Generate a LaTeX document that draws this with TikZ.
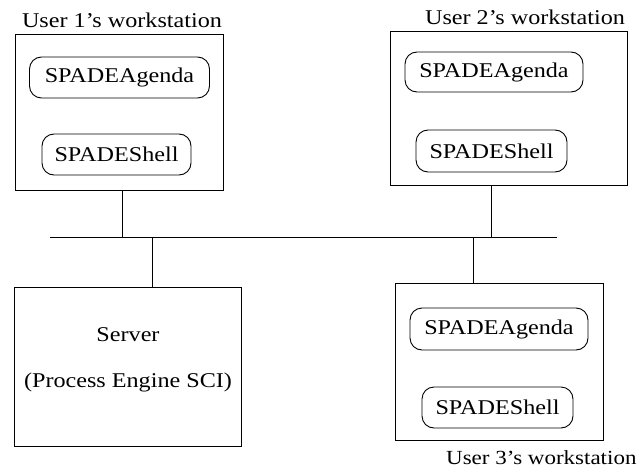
\documentclass[tikz,border=0pt]{standalone}
\usepackage{fontspec}
\setmainfont[FakeStretch=1.15]{Liberation Serif}
\begin{document}
\begin{tikzpicture}[x=1pt,y=-1pt,
  line width=0.9pt,
  wsbox/.style={draw, rectangle, inner sep=0pt},
  comp/.style={draw, rectangle, rounded corners=12pt, inner sep=0pt, font=\fontsize{21}{25}\selectfont},
  lbl/.style={inner sep=0pt, font=\fontsize{21}{25}\selectfont},
  wire/.style={line width=0.9pt}]
\useasboundingbox (0,0) rectangle (639,468);
% workstation 1
\node[wsbox, minimum width=208pt, minimum height=156pt] (ws1) at (119,112) {};
\node[comp, minimum width=180pt, minimum height=41pt] (a1) at (119.5,77.5) {SPADEAgenda};
\node[comp, minimum width=149pt, minimum height=41pt] (s1) at (116.5,154.5) {SPADEShell};
\node[lbl, anchor=base] (t1) at (122,28) {User 1’s workstation};
% workstation 2
\node[wsbox, minimum width=237pt, minimum height=154pt] (ws2) at (508.5,108) {};
\node[comp, minimum width=178pt, minimum height=40pt] (a2) at (494,72) {SPADEAgenda};
\node[comp, minimum width=151pt, minimum height=42pt] (s2) at (491.5,151) {SPADEShell};
\node[lbl, anchor=base] (t2) at (525,25) {User 2’s workstation};
% server
\node[wsbox, minimum width=227pt, minimum height=159pt] (srv) at (127.5,366.5) {};
\node[lbl, align=center] (srvt) at (128,360) {Server\\[21pt](Process Engine SCI)};
% workstation 3
\node[wsbox, minimum width=208pt, minimum height=157pt] (ws3) at (499,361.5) {};
\node[comp, minimum width=178pt, minimum height=42pt] (a3) at (499,329) {SPADEAgenda};
\node[comp, minimum width=151pt, minimum height=41pt] (s3) at (497.5,407.5) {SPADEShell};
\node[lbl, anchor=base east, font=\fontsize{20}{24}\selectfont] (t3) at (637,464) {User 3’s workstation};
% bus
\coordinate (busL) at (50,237);
\coordinate (busR) at (557,237);
\draw[wire] (busL) -- (busR);
\draw[wire] (ws1.south -| 122,0) -- (122,237);
\draw[wire] (152,237) -- (srv.north -| 152,0);
\draw[wire] (ws2.south -| 491,0) -- (491,237);
\draw[wire] (473,237) -- (ws3.north -| 473,0);
\end{tikzpicture}
\end{document}
